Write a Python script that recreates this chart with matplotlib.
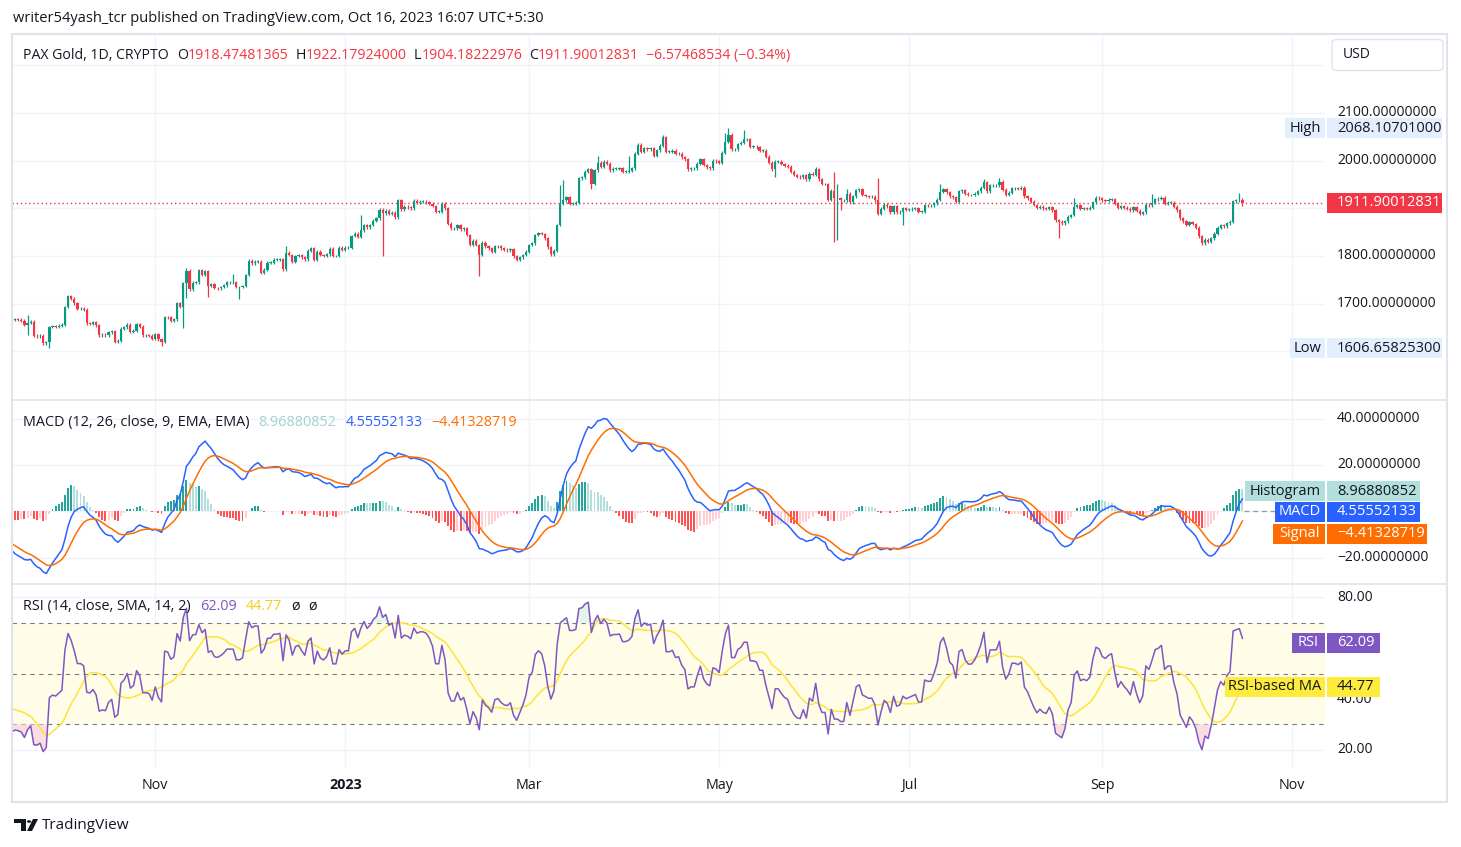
import numpy as np
import pandas as pd
import matplotlib
matplotlib.use("Agg")
import matplotlib.pyplot as plt
from matplotlib.patches import Rectangle, FancyBboxPatch, Polygon, Circle
from matplotlib.transforms import blended_transform_factory

plt.rcParams['font.family'] = ['Open Sans', 'DejaVu Sans']

W, H = 1461, 847

# ---- data (daily PAXG closes, 16 Sep 2022 .. 16 Oct 2023) ----
start_date = "2022-09-16"
close = [
    1666, 1667, 1666, 1664, 1656, 1660, 1662, 1633, 1632, 1633,
    1617, 1619, 1651, 1653, 1652, 1654, 1656, 1693, 1716, 1710,
    1701, 1689, 1689, 1687, 1659, 1658, 1661, 1655, 1634, 1635,
    1634, 1640, 1642, 1620, 1622, 1647, 1650, 1656, 1641, 1643,
    1657, 1652, 1634, 1634, 1633, 1626, 1636, 1625, 1620, 1672,
    1671, 1664, 1667, 1701, 1694, 1743, 1769, 1730, 1744, 1745,
    1770, 1760, 1768, 1738, 1741, 1733, 1732, 1735, 1739, 1745,
    1745, 1745, 1735, 1735, 1737, 1760, 1790, 1785, 1788, 1788,
    1765, 1771, 1786, 1786, 1792, 1792, 1793, 1772, 1807, 1802,
    1788, 1800, 1802, 1797, 1793, 1811, 1816, 1792, 1809, 1802,
    1800, 1804, 1815, 1800, 1800, 1817, 1813, 1817, 1817, 1842,
    1847, 1840, 1854, 1865, 1860, 1865, 1874, 1879, 1897, 1890,
    1895, 1888, 1891, 1881, 1917, 1898, 1903, 1902, 1900, 1916,
    1912, 1914, 1914, 1913, 1910, 1905, 1893, 1893, 1910, 1900,
    1868, 1858, 1858, 1865, 1856, 1858, 1844, 1823, 1832, 1823,
    1802, 1828, 1820, 1816, 1809, 1820, 1821, 1816, 1813, 1812,
    1814, 1799, 1792, 1797, 1802, 1809, 1823, 1827, 1844, 1848,
    1846, 1837, 1818, 1804, 1811, 1865, 1910, 1917, 1923, 1910,
    1910, 1912, 1963, 1965, 1977, 1982, 1952, 1980, 1996, 1987,
    1998, 1994, 1980, 1983, 1983, 1984, 1977, 1977, 1979, 1984,
    2015, 2033, 2019, 2026, 2024, 2026, 2010, 2022, 2031, 2049,
    2019, 2019, 2021, 2014, 2015, 2007, 2003, 1982, 1984, 1984,
    1994, 2003, 1991, 1986, 1984, 2000, 1999, 1996, 2017, 2040,
    2054, 2024, 2024, 2035, 2038, 2045, 2045, 2029, 2029, 2028,
    2021, 2021, 2008, 1996, 1982, 1998, 1998, 1993, 1989, 1987,
    1977, 1970, 1966, 1965, 1970, 1961, 1973, 1970, 1982, 1961,
    1951, 1951, 1918, 1937, 1921, 1921, 1917, 1917, 1931, 1913,
    1925, 1938, 1940, 1928, 1926, 1924, 1924, 1917, 1889, 1899,
    1908, 1904, 1892, 1905, 1892, 1893, 1900, 1897, 1898, 1899,
    1900, 1893, 1893, 1907, 1906, 1906, 1911, 1918, 1935, 1940,
    1934, 1925, 1923, 1914, 1936, 1938, 1931, 1928, 1928, 1931,
    1936, 1943, 1955, 1936, 1948, 1948, 1948, 1956, 1939, 1929,
    1933, 1942, 1942, 1941, 1943, 1925, 1921, 1914, 1907, 1901,
    1903, 1900, 1899, 1902, 1896, 1875, 1872, 1869, 1873, 1882,
    1886, 1903, 1906, 1899, 1900, 1899, 1901, 1913, 1922, 1921,
    1917, 1916, 1918, 1919, 1910, 1901, 1904, 1901, 1899, 1896,
    1902, 1895, 1889, 1892, 1908, 1906, 1912, 1919, 1920, 1922,
    1910, 1912, 1912, 1903, 1896, 1879, 1873, 1866, 1871, 1867,
    1859, 1841, 1827, 1834, 1830, 1837, 1847, 1859, 1865, 1862,
    1869, 1872, 1915, 1917, 1918.47481365, 1911.90012831,
]
# closes before the visible window, only used to warm up MACD / RSI
warmup_close = [
    1772, 1760, 1765, 1791, 1775, 1775, 1776, 1789, 1794, 1792,
    1789, 1802, 1802, 1800, 1779, 1776, 1761, 1758, 1747, 1747,
    1746, 1736, 1748, 1751, 1758, 1737, 1737, 1736, 1738, 1723,
    1711, 1697, 1712, 1712, 1711, 1710, 1702, 1718, 1708, 1717,
    1717, 1717, 1724, 1702, 1697, 1665,
]
first_open = 1668
# notable wicks (day index -> price)
wick_high = {5: 1676, 56: 1775, 71: 1762, 88: 1820, 112: 1886, 176: 1949,
             177: 1959, 188: 2010, 198: 2010, 209: 2054, 229: 2057,
             230: 2068.10701, 235: 2064, 258: 1987, 264: 1977, 265: 1950,
             268: 1941, 278: 1963, 298: 1952, 312: 1962, 317: 1963,
             341: 1921, 366: 1931, 394: 1933, 395: 1922.17924}
wick_low = {5: 1634, 12: 1606.658253, 33: 1617, 48: 1611, 55: 1648, 56: 1712,
            63: 1715, 73: 1709, 119: 1799, 150: 1757, 186: 1940, 245: 1966,
            264: 1830, 265: 1834, 266: 1896, 286: 1864, 336: 1838, 382: 1823,
            395: 1904.18222976}

month_ticks = ["2022-11-01", "2023-01-01", "2023-03-01", "2023-05-01",
               "2023-07-01", "2023-09-01", "2023-11-01"]
month_labels = ["Nov", "2023", "Mar", "May", "Jul", "Sep", "Nov"]

# scale labels that stay visible (1900 / 60 sit under the value tags)
price_levels = [1700, 1800, 2000, 2100]
macd_levels = [40, 20, -20]
rsi_levels = [80, 40, 20]

# colors
UP, DOWN = '#089981', '#f23645'
TXT = '#131722'
GRID = '#f0f3fa'
BORDER = '#e0e3eb'

# ---- indicators ----
full = pd.Series(warmup_close + close, dtype=float)
nw = len(warmup_close)
macd = full.ewm(span=12, adjust=False).mean() - full.ewm(span=26, adjust=False).mean()
signal = macd.ewm(span=9, adjust=False).mean()
hist = macd - signal
delta = full.diff().fillna(0)
gain = delta.clip(lower=0).ewm(alpha=1 / 14, adjust=False).mean()
loss = (-delta.clip(upper=0)).ewm(alpha=1 / 14, adjust=False).mean()
rsi = 100 - 100 / (1 + gain / loss)
rsi_ma = rsi.rolling(14).mean()
macd, signal, hist = macd.values[nw:], signal.values[nw:], hist.values[nw:]
rsi, rsi_ma = rsi.values[nw:], rsi_ma.values[nw:]

n = len(close)
days = np.arange(n)
opens = np.array([first_open] + close[:-1], dtype=float)
closes = np.array(close, dtype=float)
wick_pad = 3.0
highs = np.array([max(wick_high.get(i, 0), max(opens[i], closes[i]) + wick_pad) for i in days])
lows = np.array([min(wick_low.get(i, 1e9), min(opens[i], closes[i]) - wick_pad) for i in days])

t0 = pd.Timestamp(start_date)
tick_idx = [(pd.Timestamp(m) - t0).days for m in month_ticks]

# ---- figure ----
fig = plt.figure(figsize=(W / 100, H / 100), dpi=100)
fig.patch.set_facecolor('white')


def pane(top, bottom):
    ax = fig.add_axes([12 / W, 1 - bottom / H, 1313 / W, (bottom - top) / H])
    ax.set_axis_off()
    ax.set_xlim(0, 421.5)
    return ax


ax_p = pane(34, 400)
ax_m = pane(400, 584)
ax_r = pane(584, 768)
ax_p.set_ylim(1497.9, 2265.7)
ax_m.set_ylim(-31.2, 47.96)
ax_r.set_ylim(12.94, 85.1)


def ypx(ax, v):
    return H - ax.transData.transform((0, v))[1]


def ftext(x, y, s, **kw):
    kw.setdefault('color', TXT)
    kw.setdefault('fontsize', 10)
    kw.setdefault('va', 'center')
    return fig.text(x / W, 1 - y / H, s, **kw)


def box(x0, x1, yc, h, face, z=5, rounded=False, edge='none'):
    if rounded:
        p = FancyBboxPatch((x0 / W, 1 - (yc + h / 2) / H), (x1 - x0) / W, h / H,
                           boxstyle="round,pad=0,rounding_size=0.004",
                           transform=fig.transFigure, facecolor=face,
                           edgecolor=edge, lw=1, zorder=z)
    else:
        p = Rectangle((x0 / W, 1 - (yc + h / 2) / H), (x1 - x0) / W, h / H,
                      transform=fig.transFigure, facecolor=face, edgecolor=edge, zorder=z)
    fig.add_artist(p)


def tag(ax, v, x1, face, label, color, value, lx0=None):
    yc = ypx(ax, v)
    if lx0 is not None:
        box(lx0, 1325, yc, 20, face)
        ftext((lx0 + 1325) / 2, yc, label, color=color, ha='center', zorder=6, fontsize=10.5)
    box(1327, x1, yc, 20, face)
    ftext(1337, yc, value, color=color, ha='left', zorder=6, fontsize=10.5)


# gridlines
for ax in (ax_p, ax_m, ax_r):
    for i in tick_idx:
        ax.axvline(i, color=GRID, lw=1, zorder=0)
for v in range(1600, 2300, 100):
    ax_p.axhline(v, color=GRID, lw=1, zorder=0)
for v in (40, 20, 0, -20):
    ax_m.axhline(v, color=GRID, lw=1, zorder=0)
for v in (80, 60, 40, 20):
    ax_r.axhline(v, color=GRID, lw=1, zorder=0)

# candles
cols = np.where(closes >= opens, UP, DOWN)
body_lo = np.minimum(opens, closes)
body_h = np.maximum(np.abs(closes - opens), 0.8)
ax_p.vlines(days, lows, highs, colors=cols, lw=0.9, zorder=2)
ax_p.bar(days, body_h, bottom=body_lo, width=0.72, color=cols, lw=0, zorder=3)
ax_p.axhline(closes[-1], color=DOWN, lw=1, ls=(0, (1, 2)), zorder=1)

# MACD
hcols = []
for i in range(n):
    prev = hist[i - 1] if i > 0 else hist[i]
    if hist[i] >= 0:
        hcols.append('#26a69a' if hist[i] >= prev else '#b2dfdb')
    else:
        hcols.append('#ffcdd2' if hist[i] >= prev else '#ff5252')
ax_m.bar(days, hist, width=0.62, color=hcols, lw=0, zorder=2)
ax_m.plot(days, macd, color='#2962ff', lw=1.1, zorder=3)
ax_m.plot(days, signal, color='#ff6d00', lw=1.1, zorder=3)
ax_m.hlines(0, n - 0.5, 421.5, colors='#9598a1', lw=0.9, ls=(0, (4, 3)), zorder=1)

# RSI
ax_r.axhspan(30, 70, color='#fffce8', lw=0, zorder=0)
for v in (70, 50, 30):
    ax_r.axhline(v, color='#787b86', lw=0.8, ls=(0, (4, 4)), zorder=1)
ax_r.fill_between(days, rsi, 30, where=rsi < 30, color='#fbdde1', lw=0, zorder=1, interpolate=True)
ax_r.fill_between(days, rsi, 70, where=rsi > 70, color='#e3f4ea', lw=0, zorder=1, interpolate=True)
ax_r.plot(days, rsi_ma, color='#fbe53b', lw=1.1, zorder=2)
ax_r.plot(days, rsi, color='#7e57c2', lw=1.1, zorder=3)

# borders / separators
fig.add_artist(Rectangle((12 / W, 1 - 802 / H), 1435 / W, 768 / H, transform=fig.transFigure,
                         facecolor='none', edgecolor=BORDER, lw=1.5, zorder=4))
for yy in (400, 584):
    fig.add_artist(plt.Line2D([12 / W, 1447 / W], [1 - yy / H] * 2, transform=fig.transFigure,
                              color=BORDER, lw=1.2, zorder=4))

# time axis labels
bt = blended_transform_factory(ax_r.transData, fig.transFigure)
for i, lab in zip(tick_idx, month_labels):
    ax_r.text(i, 1 - 785 / H, lab, transform=bt, ha='center', va='center', fontsize=10.3,
              color=TXT, fontweight='bold' if lab.isdigit() else 'normal', clip_on=False)

# right axis labels
for v in price_levels:
    ftext(1337, ypx(ax_p, v), f"{v:.8f}", ha='left')
for v in macd_levels:
    ftext(1337, ypx(ax_m, v), f"{v:.8f}".replace('-', '\u2212'), ha='left')
for v in rsi_levels:
    ftext(1337, ypx(ax_r, v), f"{v:.2f}", ha='left')

# tags on the price scale
tag(ax_p, 2068.10701, 1442, '#e3effd', 'High', TXT, '2068.10701000', lx0=1285)
tag(ax_p, 1606.658253, 1442, '#e3effd', 'Low', TXT, '1606.65825300', lx0=1290)
tag(ax_p, closes[-1], 1442, DOWN, '', 'white', '1911.90012831')
tag(ax_m, 8.8, 1420, '#b2dfdb', 'Histogram', TXT, '8.96880852', lx0=1245)
tag(ax_m, -0.2, 1420, '#2962ff', 'MACD', 'white', '4.55552133', lx0=1275)
tag(ax_m, -9.6, 1427, '#ff6d00', 'Signal', 'white', '\u22124.41328719', lx0=1273)
tag(ax_r, 62.09, 1380, '#7e57c2', 'RSI', 'white', '62.09', lx0=1292)
tag(ax_r, 44.77, 1380, '#ffeb3b', 'RSI-based MA', TXT, '44.77', lx0=1225)

# USD button
box(1332, 1443, 55, 31, 'white', z=5, rounded=True, edge=BORDER)
ftext(1343, 55, 'USD', ha='left', zorder=6)


# legends (chained text pieces)
LEG = 10.4


def ann(p, s, c, gap, size):
    return fig.add_artist(plt.Annotation(s, xy=(1, 0), xycoords=p, xytext=(gap, 0),
                                         textcoords='offset points', ha='left', va='bottom',
                                         color=c, fontsize=size))


def legend_row(x, y, pieces, size=LEG):
    p = ftext(x, y, pieces[0][0], ha='left', va='bottom', color=pieces[0][1], fontsize=size)
    for s, c, gap in pieces[1:]:
        p = ann(p, s, c, gap, size)


legend_row(23, 63, [("PAX Gold, 1D, CRYPTO", TXT),
                    ("O", TXT, 6.0), ("1918.47481365", DOWN, 0),
                    ("H", TXT, 5), ("1922.17924000", DOWN, 0),
                    ("L", TXT, 5), ("1904.18222976", DOWN, 0),
                    ("C", TXT, 5), ("1911.90012831", DOWN, 0),
                    ("\u22126.57468534 (\u22120.34%)", DOWN, 5)], size=10.2)
legend_row(23, 430, [("MACD (12, 26, close, 9, EMA, EMA)", TXT),
                     ("8.96880852", '#9fd3cc', 6.5),
                     ("4.55552133", '#2962ff', 6.5),
                     ("\u22124.41328719", '#ff6d00', 6.5)])
legend_row(23, 614, [("RSI (14, close, SMA, 14, 2)", TXT),
                     ("62.09", '#7e57c2', 6.5),
                     ("44.77", '#f2cf1d', 6.5),
                     ("\u00f8", TXT, 6.5), ("\u00f8", TXT, 6.5)])

# header
ftext(13, 19, "writer54yash_tcr published on TradingView.com, Oct 16, 2023 16:07 UTC+5:30",
      ha='left', fontsize=10.5)

# TradingView logo + name
fig.add_artist(Polygon([(14 / W, 1 - 819 / H), (26 / W, 1 - 819 / H), (26 / W, 1 - 831 / H),
                        (21 / W, 1 - 831 / H), (21 / W, 1 - 823 / H), (14 / W, 1 - 823 / H)],
                       closed=True, transform=fig.transFigure, facecolor=TXT, lw=0))
fig.add_artist(Circle((29 / W, 1 - 821.5 / H), 2.2 / W, transform=fig.transFigure,
                      facecolor=TXT, lw=0))
fig.add_artist(Polygon([(33 / W, 1 - 819 / H), (38 / W, 1 - 819 / H), (32 / W, 1 - 831 / H),
                        (27 / W, 1 - 831 / H)],
                       closed=True, transform=fig.transFigure, facecolor=TXT, lw=0))
ftext(42, 825, "TradingView", ha='left', fontsize=11)

fig.savefig("out.png", dpi=100, facecolor='white')
